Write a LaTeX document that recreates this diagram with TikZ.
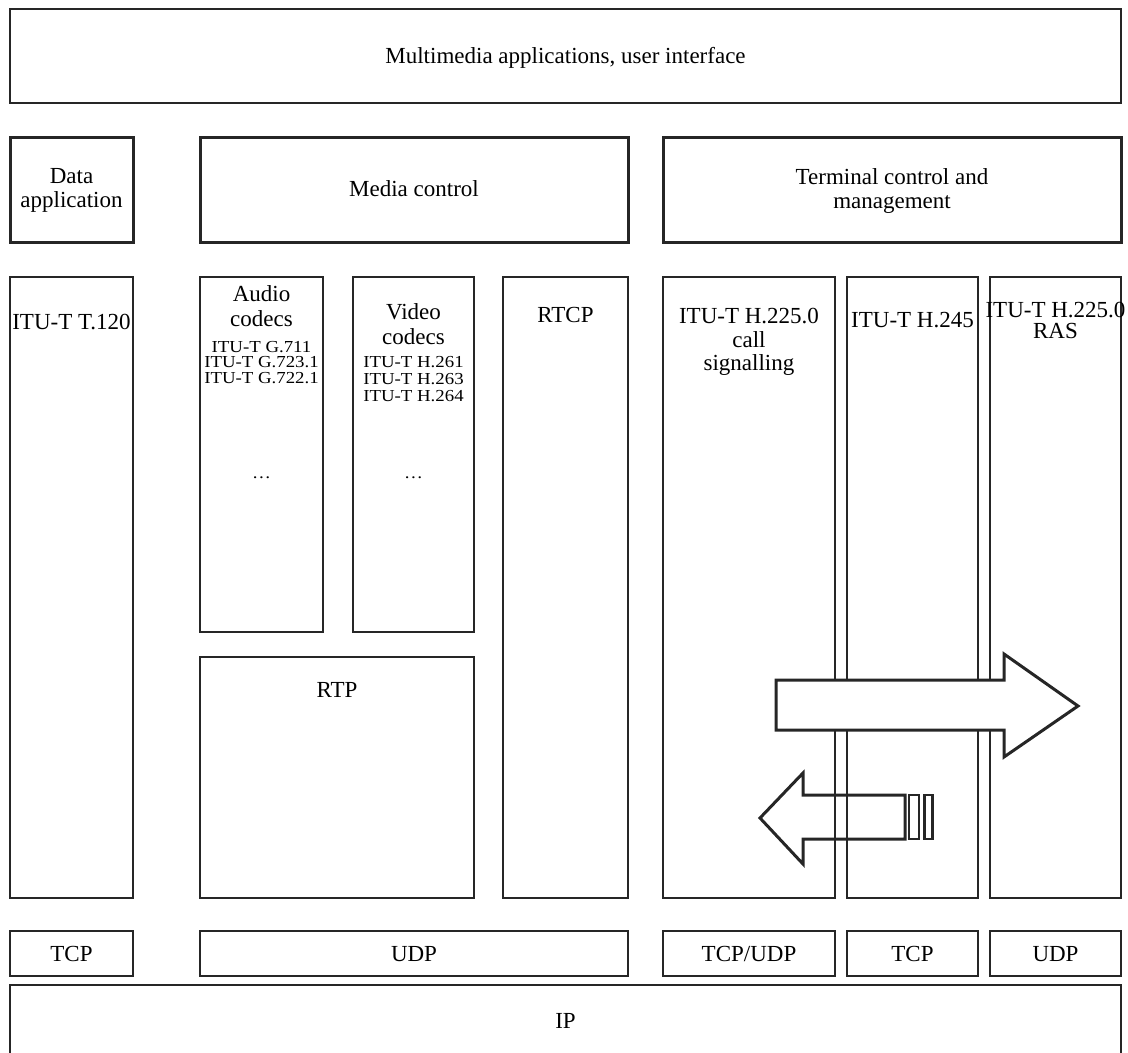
\documentclass[tikz,border=0pt]{standalone}
\usepackage{fontspec}
\setmainfont{Liberation Serif}
\newfontfamily\widerserif[FakeStretch=1.12]{Liberation Serif}
\usetikzlibrary{fit}
\begin{document}
\begin{tikzpicture}[x=0.5pt,y=-0.5pt,
  box/.style={draw=black!85, line width=0.75pt, inner sep=0pt, outer sep=0pt},
  thickbox/.style={box, line width=1.5pt},
  big/.style={font=\fontsize{11.5}{12}\selectfont, inner sep=0pt, anchor=base},
  sml/.style={font=\widerserif\fontsize{8.4}{9}\selectfont, inner sep=0pt, anchor=base},
  arrowshape/.style={draw=black!85, line width=1.5pt, line join=miter}]
\useasboundingbox (0,0) rectangle (1128,1053);
% boxes
\node[box, fit={(10,9) (1121,103)}] (top) {};
\node[thickbox, fit={(10,138) (133,243)}] (data) {};
\node[thickbox, fit={(200,138) (628,243)}] (media) {};
\node[thickbox, fit={(663,138) (1121,243)}] (term) {};
\node[box, fit={(10,277) (133,898)}] (t120) {};
\node[box, fit={(200,277) (323,632)}] (audio) {};
\node[box, fit={(353,277) (474,632)}] (video) {};
\node[box, fit={(503,277) (628,898)}] (rtcp) {};
\node[box, fit={(200,657) (474,898)}] (rtp) {};
\node[box, fit={(663,277) (835,898)}] (hcall) {};
\node[box, fit={(847,277) (978,898)}] (h245) {};
\node[box, fit={(990,277) (1121,898)}] (ras) {};
\node[box, fit={(10,931) (133,976)}] (tcpa) {};
\node[box, fit={(200,931) (628,976)}] (udpa) {};
\node[box, fit={(663,931) (835,976)}] (tcpudp) {};
\node[box, fit={(847,931) (978,976)}] (tcpb) {};
\node[box, fit={(990,931) (1121,976)}] (udpb) {};
\draw[box] (10,1060) -- (10,985) -- (1121,985) -- (1121,1060);
\coordinate (ip) at (565.5,1020);
% texts
\node[big] (ttop) at (565.5,63.5) {Multimedia applications, user interface};
\node[big] (tdata1) at (71.5,184) {Data};
\node[big] (tdata2) at (71.5,208) {application};
\node[big] (tmedia) at (414,197) {Media control};
\node[big] (tterm1) at (892,185) {Terminal control and};
\node[big] (tterm2) at (892,209) {management};
\node[big] (tt120) at (71.5,329) {ITU-T T.120};
\node[big] (taud1) at (261.5,302) {Audio};
\node[big] (taud2) at (261.5,327) {codecs};
\node[sml] (taud3) at (261.5,352) {ITU-T G.711};
\node[sml] (taud4) at (261.5,367.5) {ITU-T G.723.1};
\node[sml] (taud5) at (261.5,383) {ITU-T G.722.1};
\node[sml] (taud6) at (261.5,478) {\dots};
\node[big] (tvid1) at (413.5,320) {Video};
\node[big] (tvid2) at (413.5,344) {codecs};
\node[sml] (tvid3) at (413.5,367) {ITU-T H.261};
\node[sml] (tvid4) at (413.5,384) {ITU-T H.263};
\node[sml] (tvid5) at (413.5,401) {ITU-T H.264};
\node[sml] (tvid6) at (413.5,478) {\dots};
\node[big] (trtcp) at (565.5,322) {RTCP};
\node[big] (trtp) at (337,697) {RTP};
\node[big] (tcall1) at (749,323) {ITU-T H.225.0};
\node[big] (tcall2) at (749,347) {call};
\node[big] (tcall3) at (749,370) {signalling};
\node[big] (th245) at (912.5,328) {ITU-T H.245};
\node[big] (tras1) at (1055.5,318) {ITU-T H.225.0};
\node[big] (tras2) at (1055.5,338) {RAS};
\node[big] (ttcpa) at (71.5,961) {TCP};
\node[big] (tudpa) at (414,961) {UDP};
\node[big] (ttcpudp) at (749,961) {TCP/UDP};
\node[big] (ttcpb) at (912.5,961) {TCP};
\node[big] (tudpb) at (1055.5,961) {UDP};
\node[big] (tip) at (565.5,1028) {IP};
% arrows
\draw[arrowshape, fill=white] (776,680) -- (1004,680) -- (1004,654) -- (1078,706)
  -- (1004,757) -- (1004,730) -- (776,730) -- cycle;
\draw[arrowshape] (905,795) -- (803,795) -- (803,773) -- (760,818)
  -- (803,864) -- (803,839) -- (905,839) -- cycle;
\draw[arrowshape, line width=1.2pt] (909,795) rectangle (919,839);
\draw[arrowshape, line width=1.2pt] (924.5,795) rectangle (932.5,839);
\end{tikzpicture}
\end{document}
